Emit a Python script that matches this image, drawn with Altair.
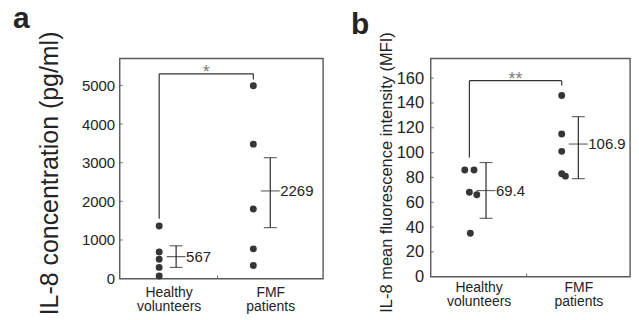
import altair as alt
import pandas as pd

FONT = "Liberation Sans"
INK = "#242424"
GRAY = "#6a6a6a"

# ---------------- data ----------------
categories = ["Healthy volunteers", "FMF patients"]
cat_pos = [1, 2]
label_pos = [1.1, 2.18]
label_lines = [["Healthy", "volunteers"], ["FMF", "patients"]]
bottom_tick = [1.62]

# panel a : IL-8 concentration (pg/ml)
a_healthy = [1360, 690, 500, 290, 70]
a_fmf = [4990, 3480, 1800, 770, 340]
a_mean = [567, 2269]
a_low = [290, 1320]
a_high = [850, 3130]
a_mean_text = ["567", "2269"]
a_ticks = [0, 1000, 2000, 3000, 4000, 5000]
a_bracket = [1550, 5300, 5150]   # left foot, top, right foot
a_sig = "*"

# panel b : IL-8 mean fluorescence intensity (MFI)
b_healthy = [86, 86, 68, 66, 35]
b_healthy_jitter = [-0.05, 0.05, 0.0, 0.08, 0.01]
b_fmf = [146, 115, 101, 83, 81]
b_fmf_jitter = [0.0, 0.0, 0.0, 0.0, 0.04]
b_mean = [69.4, 106.9]
b_low = [47, 79]
b_high = [92, 129]
b_mean_text = ["69.4", "106.9"]
b_ticks = [0, 20, 40, 60, 80, 100, 120, 140, 160]
b_bracket = [96, 158, 154]
b_sig = "**"

BAR_SHIFT = 0.18
X_DOMAIN = [0.58, 2.74]


def panel(healthy, fmf, hj, fj, mean, low, high, mean_text, ticks, bracket, sig,
          ymax, width, height, ytitle, ytitle_size, ytitle_pad, ytitle_y,
          ylabel_size, ylabel_pad, xlabel_pad, letter, letter_size, letter_dx, letter_dy):
    pts = pd.DataFrame({
        "x": [cat_pos[0] + j for j in hj] + [cat_pos[1] + j for j in fj],
        "y": healthy + fmf,
    })
    stats = pd.DataFrame({
        "x": [p + BAR_SHIFT for p in cat_pos],
        "mean": mean, "low": low, "high": high, "text": mean_text,
    })
    br = pd.DataFrame({
        "x": [cat_pos[0], cat_pos[0], cat_pos[1]],
        "x2": [cat_pos[0], cat_pos[1], cat_pos[1]],
        "y": [bracket[0], bracket[1], bracket[2]],
        "y2": [bracket[1], bracket[1], bracket[1]],
    })
    sigdf = pd.DataFrame({"x": [sum(cat_pos) / 2], "y": [bracket[1]], "t": [sig]})
    tk = pd.DataFrame({"y": ticks})
    btk = pd.DataFrame({"x": bottom_tick})
    letdf = pd.DataFrame({"t": [letter]})

    expr = "datum.value < 1.5 ? ['%s','%s'] : ['%s','%s']" % (
        label_lines[0][0], label_lines[0][1], label_lines[1][0], label_lines[1][1])

    xscale = alt.Scale(domain=X_DOMAIN, nice=False, zero=False)
    xaxis = alt.Axis(values=label_pos, labelExpr=expr, ticks=False, domain=False,
                     grid=False, title=None, labelFontSize=14, labelLineHeight=14,
                     labelPadding=xlabel_pad, labelFlush=False, labelOverlap=False,
                     labelColor=INK, labelFont=FONT)
    yscale = alt.Scale(domain=[0, ymax], nice=False, zero=True)
    yaxis = alt.Axis(values=ticks, format="d", ticks=False, domain=False, grid=False,
                     title=ytitle, titleFontSize=ytitle_size, titleFontWeight="normal",
                     titleFont=FONT, titleColor=INK, titlePadding=ytitle_pad,
                     titleY=ytitle_y, labelFontSize=ylabel_size, labelPadding=ylabel_pad,
                     labelColor=INK, labelFont=FONT, labelOverlap=False)

    def X(f):
        return alt.X(f, type="quantitative", scale=xscale, axis=xaxis)

    def Y(f):
        return alt.Y(f, type="quantitative", scale=yscale, axis=yaxis)

    inner = alt.Chart(tk).mark_rule(color=GRAY, strokeWidth=1).encode(
        y=Y("y"), x=alt.value(0), x2=alt.value(3))
    inner_x = alt.Chart(btk).mark_rule(color=GRAY, strokeWidth=1).encode(
        x=X("x"), y=alt.value(height), y2=alt.value(height - 3))
    brk = alt.Chart(br).mark_rule(color="#333", strokeWidth=1.2).encode(
        x=X("x"), x2="x2", y=Y("y"), y2="y2")
    star = alt.Chart(sigdf).mark_text(font=FONT, fontSize=18, color="#808080",
                                      baseline="alphabetic", dy=4).encode(
        x=X("x"), y=Y("y"), text="t")
    dots = alt.Chart(pts).mark_circle(size=48, color="#363636", opacity=1).encode(
        x=X("x"), y=Y("y"))
    err = alt.Chart(stats).mark_rule(color="#2a2a2a", strokeWidth=1.2).encode(
        x=X("x"), y=Y("low"), y2="high")
    cap_lo = alt.Chart(stats).mark_tick(orient="horizontal", size=13, thickness=1.2,
                                        color="#2a2a2a").encode(x=X("x"), y=Y("low"))
    cap_hi = alt.Chart(stats).mark_tick(orient="horizontal", size=13, thickness=1.2,
                                        color="#2a2a2a").encode(x=X("x"), y=Y("high"))
    mid = alt.Chart(stats).mark_tick(orient="horizontal", size=19, thickness=1.2,
                                     color="#2a2a2a").encode(x=X("x"), y=Y("mean"))
    lab = alt.Chart(stats).mark_text(font=FONT, fontSize=15, color=INK, align="left",
                                     baseline="middle", dx=10).encode(
        x=X("x"), y=Y("mean"), text="text")
    let = alt.Chart(letdf).mark_text(font=FONT, fontSize=letter_size, fontWeight="bold",
                                     color=INK, align="left", baseline="alphabetic").encode(
        x=alt.value(letter_dx), y=alt.value(letter_dy), text="t")

    return alt.layer(inner, inner_x, brk, star, dots, err, cap_lo, cap_hi, mid, lab,
                     let).properties(width=width, height=height)


pa = panel(a_healthy, a_fmf, [0] * 5, [0] * 5, a_mean, a_low, a_high, a_mean_text,
           a_ticks, a_bracket, a_sig, 5700, 204, 221,
           "IL-8 concentration (pg/ml)", 25, 19, 115, 15, 5, 7,
           "a", 30, -107, -30)
pb = panel(b_healthy, b_fmf, b_healthy_jitter, b_fmf_jitter, b_mean, b_low, b_high,
           b_mean_text, b_ticks, b_bracket, b_sig, 176, 200, 219,
           "IL-8 mean fluorescence intensity (MFI)", 16.5, 2, 114, 16.5, 7, 4,
           "b", 30, -80, -24)

chart = alt.hconcat(pa, pb, spacing=108, bounds="flush").properties(
    padding={"left": 4, "top": -5, "right": 0, "bottom": 0}
).configure(font=FONT).configure_view(stroke="#5a5a5a", strokeWidth=1.4)

chart.save("out.html", embed_options={"renderer": "svg", "actions": False})
